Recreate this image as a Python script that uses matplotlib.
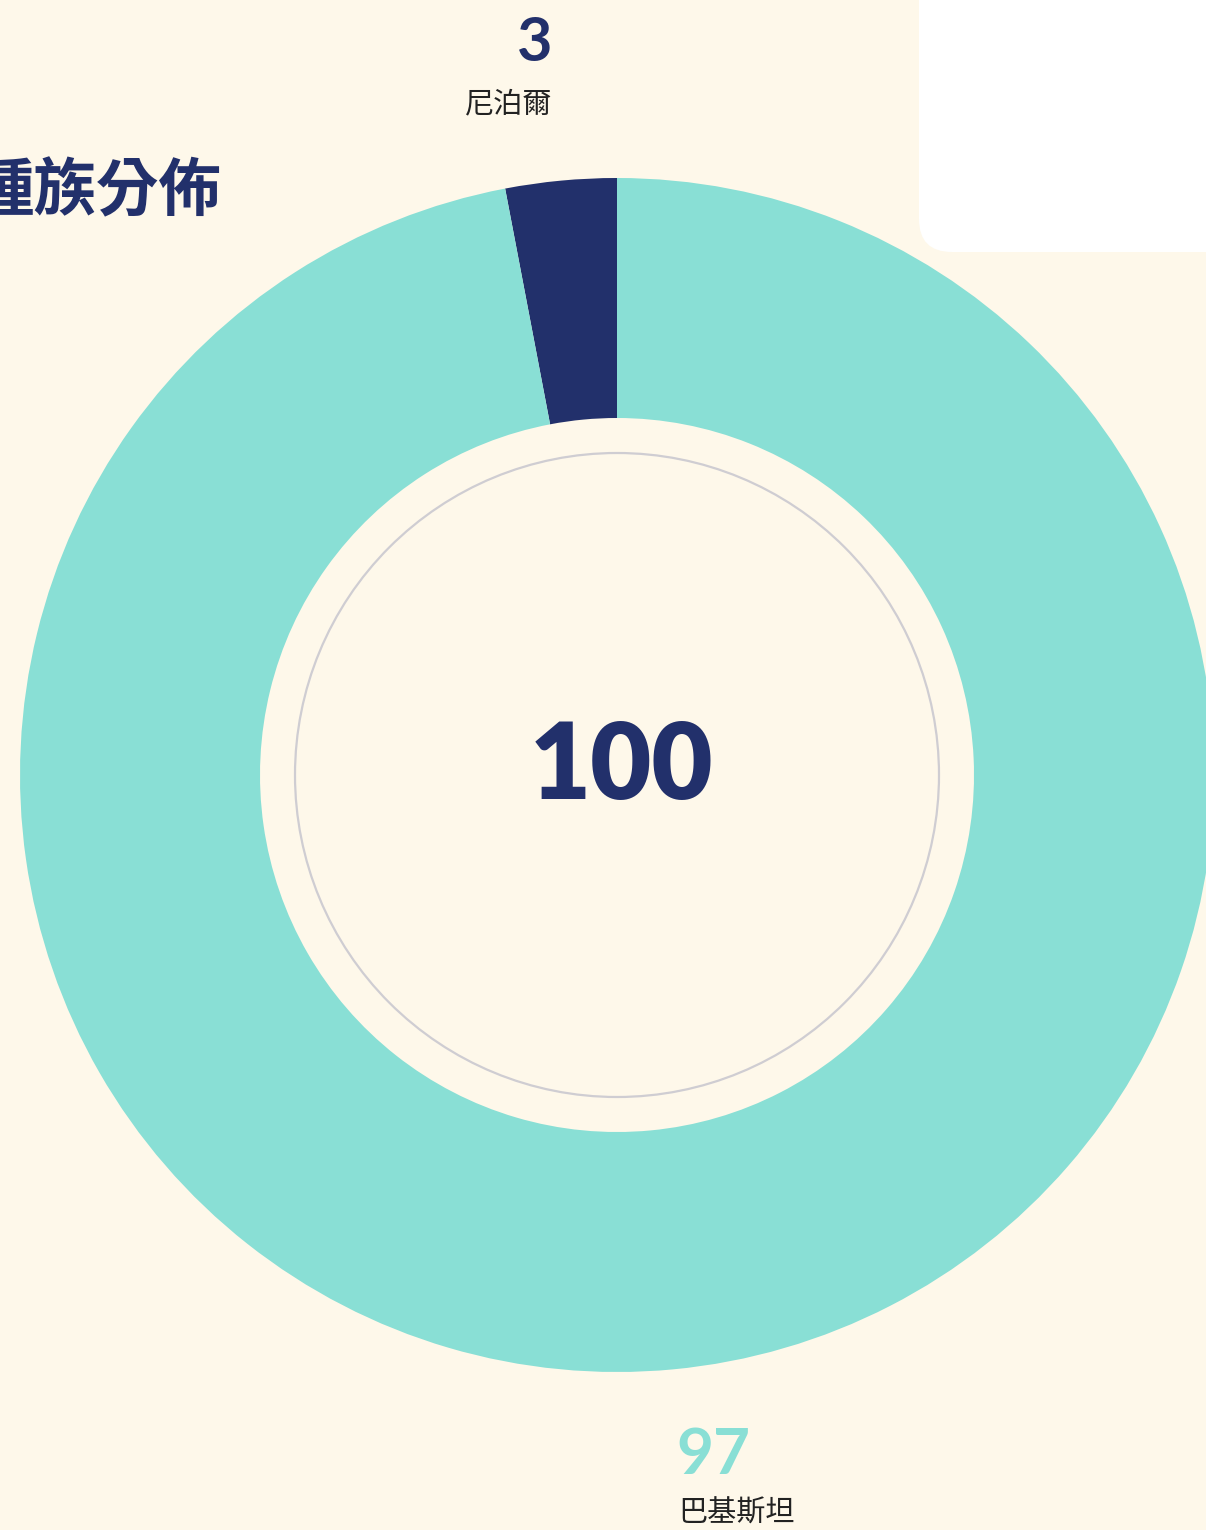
import matplotlib.pyplot as plt
from matplotlib.patches import Circle, FancyBboxPatch

# data
labels = ['尼泊爾', '巴基斯坦']
values = [3, 97]
total = sum(values)
colors = ['#22306B', '#89DFD5']
title = '種族分佈'

W, H = 1206, 1530
bg = '#FEF8EA'
navy = '#22306B'

fig = plt.figure(figsize=(W / 100, H / 100), dpi=100, facecolor=bg)
ax = fig.add_axes([0, 0, 1, 1])
ax.set_facecolor(bg)

cx, cy = 617, H - 775     # donut centre in pixel coords
r_out, r_in = 597, 357

# white card top right
card = FancyBboxPatch((919, H - 252), 400, 300, boxstyle='round,pad=0,rounding_size=33',
                      facecolor='white', edgecolor='none', zorder=1)
ax.add_patch(card)

ax.pie(values, colors=colors, startangle=90, counterclock=True, center=(cx, cy),
       radius=r_out, wedgeprops=dict(width=r_out - r_in, edgecolor='none', zorder=2),
       frame=True)
ax.set_xlim(0, W)
ax.set_ylim(0, H)
ax.set_aspect('equal')
ax.axis('off')

# thin ring inside
ax.add_patch(Circle((cx, cy), 322, facecolor='none', edgecolor='#CFCDD2', linewidth=1.6, zorder=3))

num_font = ['Lato', 'DejaVu Sans']
cjk_font = ['Noto Sans CJK TC', 'DejaVu Sans']

ax.text(622, H - 767, str(total), ha='center', va='center', fontsize=76,
        fontweight='heavy', color=navy, family=num_font, zorder=4)

# title runs off the left edge, as in the original
ax.text(222, H - 192, title, ha='right', va='center', fontsize=45,
        fontweight='bold', color=navy, family=cjk_font, zorder=4)

# labels
ax.text(535, H - 43, str(values[0]), ha='center', va='center', fontsize=44,
        fontweight='bold', color=colors[0], family=num_font, zorder=4)
ax.text(509, H - 104, labels[0], ha='center', va='center', fontsize=21,
        color='#222222', family=cjk_font, zorder=4)
ax.text(713, H - 1455, str(values[1]), ha='center', va='center', fontsize=46,
        fontweight='bold', color=colors[1], family=num_font, zorder=4)
ax.text(737, H - 1514, labels[1], ha='center', va='center', fontsize=21,
        color='#222222', family=cjk_font, zorder=4)

fig.savefig('out.png', dpi=100, facecolor=bg)
